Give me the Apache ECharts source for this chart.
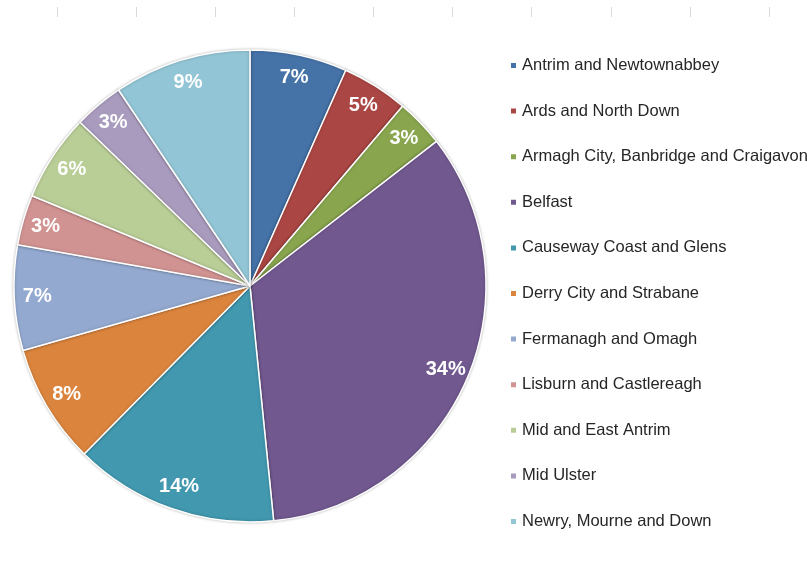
<!DOCTYPE html>
<html>
<head>
<meta charset="utf-8">
<script src="https://cdn.jsdelivr.net/npm/echarts@6/dist/echarts.min.js"></script>
<style>
  html, body { margin: 0; padding: 0; background: #fff; }
  #main { width: 807px; height: 563px; }
</style>
</head>
<body>
<div id="main"></div>
<script>
// council areas, share of total (%)
const areas = [
  'Antrim and Newtownabbey',
  'Ards and North Down',
  'Armagh City, Banbridge and Craigavon',
  'Belfast',
  'Causeway Coast and Glens',
  'Derry City and Strabane',
  'Fermanagh and Omagh',
  'Lisburn and Castlereagh',
  'Mid and East Antrim',
  'Mid Ulster',
  'Newry, Mourne and Down'
]
const shares = [6.65, 4.55, 3.3, 33.9, 14.0, 8.2, 7.2, 3.45, 5.95, 3.4, 9.4]
const colors = ['#4572A7', '#AA4643', '#89A54E', '#71588F', '#4198AF', '#DB843D',
  '#93A9CF', '#D19392', '#B9CD96', '#A99BBD', '#92C5D6']

const chart = echarts.init(document.getElementById('main'))
const pieData = areas.map((name, i) => ({ name: name, value: shares[i] }))

const option = {
  animation: false,
  color: colors,
  // faint tick marks along the top edge
  grid: { left: 57, right: 38, top: 17, height: 0 },
  xAxis: {
    type: 'value', position: 'top', min: 0, max: 9, interval: 1,
    axisLine: { show: false },
    axisLabel: { show: false },
    splitLine: { show: false },
    axisTick: { show: true, length: 10, lineStyle: { color: '#d9d9d9', width: 1 } }
  },
  yAxis: { type: 'value', show: false },
  legend: {
    orient: 'vertical',
    left: 504,
    top: 52,
    icon: 'rect',
    itemWidth: 7,
    itemHeight: 7,
    itemGap: 28.6,
    textStyle: { fontFamily: 'Liberation Sans, Arial', fontSize: 16.5, lineHeight: 16, color: '#262626' },
    data: areas
  },
  series: [
    {
      type: 'pie',
      center: [250, 286],
      radius: [0, 236],
      startAngle: 90,
      clockwise: true,
      label: { show: false },
      labelLine: { show: false },
      itemStyle: { borderColor: '#ffffff', borderWidth: 1.5, shadowColor: 'rgba(0,0,0,0.25)', shadowBlur: 3 },
      data: pieData
    },
    {
      // transparent ring that just carries the percent labels near the rim
      type: 'pie',
      center: [250, 286],
      radius: [184, 236],
      startAngle: 90,
      clockwise: true,
      silent: true,
      legendHoverLink: false,
      itemStyle: { color: 'rgba(0,0,0,0)' },
      label: {
        show: true,
        position: 'inside',
        formatter: p => Math.round(p.percent) + '%',
        color: '#ffffff',
        fontFamily: 'Liberation Sans, Arial',
        fontWeight: 'bold',
        fontSize: 20
      },
      labelLine: { show: false },
      data: pieData
    }
  ]
}
chart.setOption(option)
</script>
</body>
</html>
